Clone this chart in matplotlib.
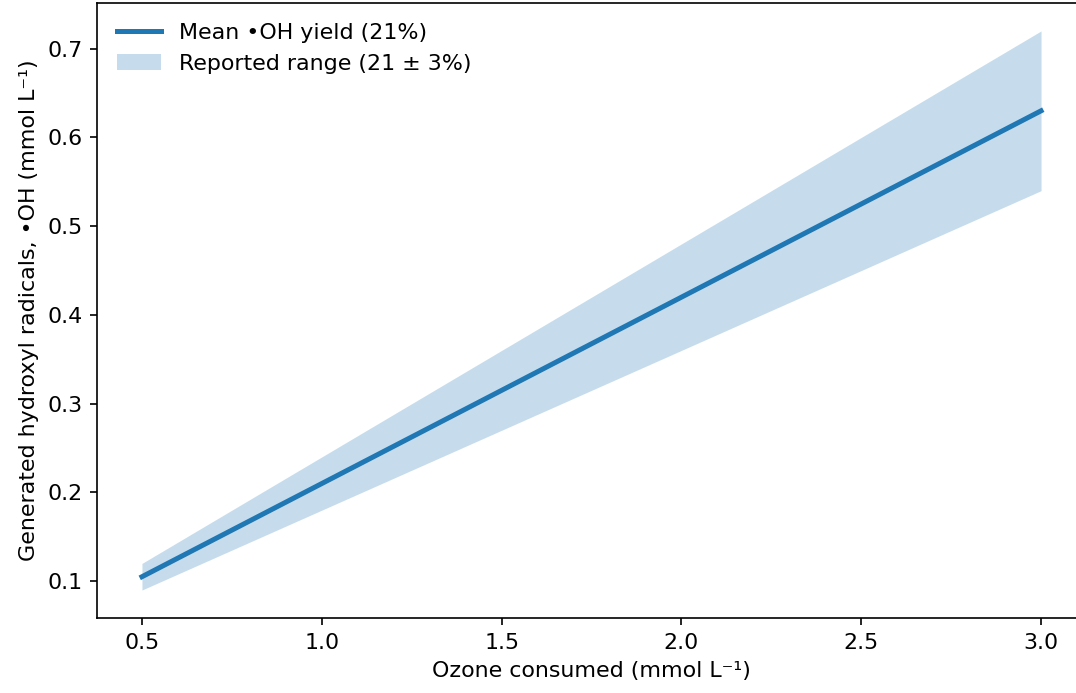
import numpy as np
import matplotlib
matplotlib.use("Agg")
import matplotlib.pyplot as plt

# ----------------------------
# DATA
# ----------------------------
ozone = np.array([0.5, 3.0])          # mmol/L consumed
oh_mean = np.array([0.105, 0.63])     # 21 % yield
oh_low = np.array([0.09, 0.54])       # 18 %
oh_high = np.array([0.12, 0.72])      # 24 %

plt.rcParams["font.size"] = 10.6

# ----------------------------
# PLOT
# ----------------------------
fig = plt.figure(figsize=(1076 / 150, 693 / 150), dpi=150)
ax = fig.add_axes([97 / 1076, 1 - 618 / 693, (1086 - 97) / 1076, (618 - 3) / 693])

ax.plot(ozone, oh_mean, color="#1f77b4", lw=2.4, label="Mean •OH yield (21%)")
ax.fill_between(ozone, oh_low, oh_high, color="#1f77b4", alpha=0.25, lw=0,
                label="Reported range (21 ± 3%)")
ax.set_xlim(0.375, 3.125)

ax.set_xlabel("Ozone consumed (mmol L⁻¹)")
ax.set_ylabel("Generated hydroxyl radicals, •OH (mmol L⁻¹)")
ax.legend(loc="upper left", frameon=False)

fig.savefig("out.png", dpi=150)
